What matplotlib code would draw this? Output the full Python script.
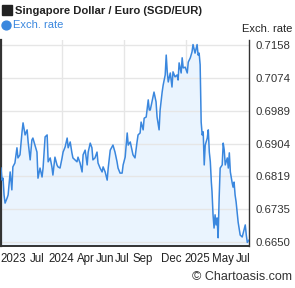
import matplotlib
matplotlib.use("Agg")
import matplotlib.pyplot as plt
import matplotlib.patches as mpatches
import numpy as np
import pandas as pd

plt.rcParams['font.family'] = ['Liberation Sans', 'DejaVu Sans']

title = "Singapore Dollar / Euro (SGD/EUR)"
series_name = "Exch. rate"
start_date = "2023-07-05"
end_date = "2025-07-05"

# days since start_date
days = [0, 3, 6, 9, 12, 18, 21, 27, 32, 35, 41, 47, 50, 56, 62, 65, 71, 77, 80, 86,
        91, 94, 100, 106, 109, 115, 121, 124, 130, 136, 139, 145, 150, 153, 159, 165, 168, 174, 180, 183,
        189, 195, 198, 204, 209, 212, 218, 224, 227, 233, 239, 242, 248, 254, 257, 263, 268, 271, 277, 283,
        286, 292, 298, 301, 307, 313, 316, 322, 327, 330, 336, 342, 345, 351, 357, 360, 366, 372, 375, 381,
        386, 389, 395, 401, 404, 410, 413, 419, 422, 428, 434, 437, 440, 445, 448, 451, 457, 460, 466, 469,
        475, 478, 484, 487, 490, 493, 499, 504, 507, 513, 519, 522, 525, 531, 534, 537, 543, 549, 552, 558,
        563, 566, 572, 578, 581, 584, 587, 590, 593, 596, 599, 602, 608, 611, 614, 617, 620, 622, 625, 628,
        631, 634, 637, 640, 643, 646, 652, 655, 658, 661, 667, 670, 673, 676, 679, 681, 684, 687, 690, 693,
        696, 699, 705, 711, 714, 720, 723, 726, 731]

rates = [0.6841, 0.6810, 0.6815, 0.6772, 0.6751, 0.6764, 0.6772, 0.6831, 0.6785, 0.6844,
         0.6854, 0.6893, 0.6867, 0.6875, 0.6934, 0.6957, 0.6926, 0.6939, 0.6908, 0.6862,
         0.6913, 0.6918, 0.6900, 0.6882, 0.6815, 0.6841, 0.6818, 0.6841, 0.6921, 0.6926,
         0.6857, 0.6867, 0.6844, 0.6823, 0.6869, 0.6849, 0.6844, 0.6841, 0.6867, 0.6882,
         0.6895, 0.6918, 0.6893, 0.6908, 0.6880, 0.6867, 0.6862, 0.6857, 0.6869, 0.6854,
         0.6831, 0.6875, 0.6887, 0.6849, 0.6882, 0.6905, 0.6893, 0.6862, 0.6867, 0.6882,
         0.6854, 0.6841, 0.6831, 0.6844, 0.6831, 0.6810, 0.6841, 0.6887, 0.6895, 0.6900,
         0.6882, 0.6857, 0.6841, 0.6828, 0.6828, 0.6849, 0.6869, 0.6931, 0.6900, 0.6908,
         0.6887, 0.6875, 0.6867, 0.6908, 0.6926, 0.6931, 0.6959, 0.6939, 0.6969, 0.6972,
         0.7016, 0.6990, 0.6990, 0.7011, 0.7023, 0.7036, 0.7011, 0.6972, 0.6939, 0.6990,
         0.7036, 0.7054, 0.7080, 0.7131, 0.7088, 0.7062, 0.7085, 0.7049, 0.7088, 0.7075,
         0.7080, 0.7067, 0.7111, 0.7085, 0.7124, 0.7098, 0.7100, 0.7085, 0.7113, 0.7124,
         0.7139, 0.7158, 0.7136, 0.7158, 0.7131, 0.7136, 0.7106, 0.6959, 0.6926, 0.6934,
         0.6849, 0.6900, 0.6918, 0.6939, 0.6882, 0.6857, 0.6805, 0.6780, 0.6721, 0.6687,
         0.6721, 0.6695, 0.6713, 0.6662, 0.6764, 0.6841, 0.6849, 0.6905, 0.6887, 0.6849,
         0.6867, 0.6841, 0.6880, 0.6831, 0.6815, 0.6805, 0.6792, 0.6805, 0.6772, 0.6754,
         0.6728, 0.6702, 0.6669, 0.6664, 0.6674, 0.6695, 0.6669, 0.6650, 0.6656]

y_tick_labels = ["0.6650", "0.6735", "0.6819", "0.6904", "0.6989", "0.7074", "0.7158"]
x_tick_days = [35, 106, 177, 251, 307, 357, 419, 502, 578, 655, 714]
x_tick_labels = ["2023", "Jul", "2024", "Apr", "Jun", "Jul", "Sep", "Dec", "2025", "May", "Jul"]
grid_dates = ["2024-01-01", "2024-07-01", "2025-01-01"]

start = pd.Timestamp(start_date)
dates = start + pd.to_timedelta(days, unit="D")
xticks = start + pd.to_timedelta(x_tick_days, unit="D")

W, H = 295, 288
fig = plt.figure(figsize=(W / 100, H / 100), dpi=100)
ax = fig.add_axes([1 / W, 1 - 246 / H, 248 / W, 206 / H])

ymin, ymax = 0.66409, 0.71697
ax.set_ylim(ymin, ymax)
ax.set_xlim(start, pd.Timestamp(end_date))

ax.fill_between(dates, rates, ymin, color="#eaf4fe", lw=0, zorder=1)
ax.plot(dates, rates, color="#3a87de", lw=1.1, zorder=3)

ytick_pos = np.linspace(float(y_tick_labels[0]), float(y_tick_labels[-1]), len(y_tick_labels))
ax.set_yticks(ytick_pos)
ax.set_yticklabels(y_tick_labels)
ax.yaxis.tick_right()
ax.tick_params(axis="y", length=0, pad=5, labelsize=8.2, colors="#333333")
ax.grid(axis="y", color="#e6e6e6", lw=1, zorder=0)

for g in grid_dates:
    ax.axvline(pd.Timestamp(g), color="#e6e6e6", lw=1, zorder=0)

ax.set_xticks(xticks)
ax.set_xticklabels(x_tick_labels)
ax.tick_params(axis="x", length=0, pad=5, labelsize=8.3, colors="#222222")

ax.spines["top"].set_visible(False)
ax.spines["left"].set_color("#333333")
ax.spines["left"].set_linewidth(1.6)
ax.spines["bottom"].set_color("#333333")
ax.spines["bottom"].set_linewidth(1.4)
ax.spines["right"].set_color("#333333")
ax.spines["right"].set_linewidth(1.0)

# header
fig.patches.append(mpatches.Rectangle((2 / W, 1 - 15 / H), 10 / W, 10 / H,
                                      transform=fig.transFigure, color="#222222"))
fig.text(15 / W, 1 - 10.5 / H, title, fontsize=8.1, fontweight="bold",
         color="#222222", va="center", ha="left")
fig.patches.append(mpatches.Circle((6.5 / W, 1 - 25.5 / H), 4.5 / W,
                                   transform=fig.transFigure, color="#3a87de"))
fig.text(13 / W, 1 - 25.5 / H, series_name, fontsize=8, color="#3a87de",
         va="center", ha="left")
fig.text(292 / W, 1 - 29 / H, series_name, fontsize=8, color="#222222",
         va="center", ha="right")
fig.text(292 / W, 1 - 277 / H, "© Chartoasis.com", fontsize=9, color="#333333",
         va="center", ha="right")

fig.savefig("out.png", dpi=100)
